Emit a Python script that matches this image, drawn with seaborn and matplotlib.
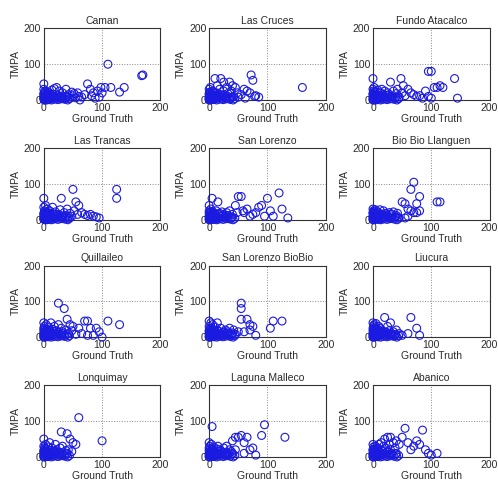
import matplotlib
matplotlib.use("Agg")
import matplotlib.pyplot as plt
import seaborn as sns

sns.set_style("white")
plt.rcParams['font.family'] = ['Liberation Sans', 'DejaVu Sans']

stations = ["Caman", "Las Cruces", "Fundo Atacalco",
            "Las Trancas", "San Lorenzo", "Bio Bio Llanguen",
            "Quillaileo", "San Lorenzo BioBio", "Liucura",
            "Lonquimay", "Laguna Malleco", "Abanico"]

# dense low-flow days shared by the stations (ground truth, TMPA)
low_gt = [0, 0, 0, 1, 1, 2, 2, 3, 3, 4, 5, 6, 7, 8, 9, 10, 11, 12, 13, 15, 16, 17, 19, 21, 23, 24, 26, 29,
          31, 33, 36, 39, 41, 44]
low_tmpa = [2, 8, 18, 4, 12, 0, 22, 6, 15, 10, 3, 14, 7, 1, 19, 9, 4, 12, 0, 6, 16, 2, 9, 4, 13, 1, 7, 3,
            11, 5, 2, 8, 0, 4]

caman_gt = [0, 0, 0, 0, 1, 1, 2, 2, 3, 4, 5, 5, 6, 8, 9, 10, 12, 14, 15, 18, 20, 22, 25, 27, 30, 32, 35, 38,
            40, 42, 45, 48, 50, 52, 55, 58, 60, 62, 65, 70, 75, 80, 82, 85, 88, 92, 95, 98, 100, 105, 110, 115,
            130, 138, 168, 170]
caman_tmpa = [45, 30, 15, 5, 20, 0, 10, 25, 8, 3, 18, 0, 12, 22, 2, 6, 15, 28, 10, 32, 5, 35, 12, 25, 8, 20, 4, 30,
              10, 15, 5, 22, 12, 18, 6, 20, 10, 0, 8, 15, 45, 30, 12, 20, 5, 25, 8, 35, 20, 35, 100, 35,
              22, 35, 68, 70]

cruces_gt = [0, 0, 0, 0, 1, 2, 2, 3, 4, 5, 6, 8, 10, 10, 12, 14, 15, 18, 20, 20, 22, 25, 25, 28, 30, 32, 35, 35,
             38, 40, 42, 45, 48, 50, 55, 60, 62, 65, 70, 72, 75, 78, 80, 85, 160]
cruces_tmpa = [30, 15, 5, 0, 22, 10, 35, 2, 18, 8, 25, 12, 60, 5, 20, 40, 8, 30, 60, 15, 5, 25, 50, 10, 35, 18, 50, 3,
               25, 40, 10, 35, 20, 8, 15, 30, 5, 25, 20, 70, 55, 10, 12, 8, 35]

fundo_gt = [0, 0, 0, 0, 1, 2, 2, 3, 4, 5, 6, 8, 10, 12, 14, 15, 18, 20, 22, 25, 28, 30, 32, 35, 38, 40, 42, 45,
            48, 50, 52, 55, 60, 65, 70, 75, 80, 85, 90, 95, 95, 100, 100, 105, 110, 115, 120, 140, 145]
fundo_tmpa = [60, 30, 15, 0, 25, 10, 35, 5, 20, 0, 15, 28, 10, 22, 5, 30, 12, 25, 8, 20, 15, 50, 10, 25, 5, 18, 30, 8,
              60, 20, 40, 12, 30, 20, 15, 10, 12, 5, 25, 80, 10, 80, 5, 35, 35, 40, 35, 60, 5]

trancas_gt = [0, 0, 0, 0, 1, 2, 3, 4, 5, 5, 6, 8, 10, 12, 14, 15, 18, 20, 22, 25, 28, 30, 32, 35, 38, 40, 42, 45,
              48, 50, 52, 55, 58, 60, 65, 70, 75, 80, 85, 90, 95, 125, 125]
trancas_tmpa = [60, 35, 15, 2, 25, 10, 40, 5, 20, 0, 30, 12, 25, 8, 18, 35, 5, 22, 10, 15, 28, 60, 8, 20, 12, 30, 5, 18,
                10, 85, 25, 50, 15, 40, 20, 15, 12, 15, 10, 8, 5, 85, 60]

slorenzo_gt = [0, 0, 0, 0, 1, 2, 3, 4, 5, 5, 6, 8, 10, 12, 15, 15, 18, 20, 22, 25, 28, 30, 32, 35, 38, 40, 45, 48,
               50, 55, 58, 60, 65, 70, 75, 80, 85, 90, 95, 100, 105, 110, 120, 125, 135]
slorenzo_tmpa = [40, 25, 10, 0, 18, 5, 30, 12, 60, 2, 22, 8, 15, 25, 50, 5, 18, 10, 22, 15, 8, 20, 12, 25, 5, 15, 40, 20,
                 65, 65, 25, 20, 30, 10, 15, 20, 35, 40, 10, 60, 25, 10, 75, 30, 5]

biobio_gt = [0, 0, 0, 0, 1, 2, 3, 4, 5, 6, 8, 10, 12, 14, 15, 18, 20, 22, 25, 28, 30, 32, 35, 38, 40, 42, 45,
             50, 55, 55, 60, 60, 65, 65, 70, 70, 75, 75, 80, 80, 110, 115]
biobio_tmpa = [30, 20, 10, 0, 25, 15, 5, 28, 18, 8, 22, 12, 28, 4, 15, 25, 8, 18, 10, 20, 5, 15, 22, 8, 12, 18, 5,
               50, 45, 5, 30, 10, 85, 25, 105, 20, 45, 20, 65, 25, 50, 50]

quill_gt = [0, 0, 0, 0, 1, 2, 3, 4, 5, 6, 8, 10, 12, 14, 15, 18, 20, 22, 25, 25, 28, 30, 32, 35, 35, 38, 40, 42,
            45, 48, 50, 55, 60, 65, 70, 75, 75, 80, 85, 90, 95, 100, 110, 130]
quill_tmpa = [40, 25, 10, 0, 30, 15, 5, 35, 20, 8, 28, 12, 40, 5, 22, 30, 10, 18, 95, 35, 8, 25, 15, 80, 5, 20, 50, 10,
              35, 18, 30, 8, 25, 10, 45, 45, 5, 25, 5, 25, 15, 0, 45, 35]

slbb_gt = [0, 0, 0, 0, 1, 2, 3, 4, 5, 6, 8, 10, 12, 14, 15, 18, 20, 22, 25, 28, 30, 32, 35, 38, 40, 42, 45,
           50, 55, 55, 55, 60, 65, 70, 70, 75, 80, 105, 110, 125]
slbb_tmpa = [45, 30, 15, 0, 25, 10, 40, 5, 20, 35, 12, 28, 8, 40, 18, 5, 25, 10, 15, 20, 8, 15, 25, 5, 12, 20, 8,
             15, 95, 80, 50, 15, 50, 35, 20, 30, 5, 25, 45, 45]

liucura_gt = [0, 0, 0, 0, 1, 1, 2, 2, 3, 4, 5, 5, 6, 7, 8, 10, 10, 12, 14, 15, 18, 20, 20, 22, 25, 25, 28, 30,
              32, 35, 38, 40, 45, 50, 60, 65, 75, 80]
liucura_tmpa = [40, 25, 10, 0, 32, 15, 35, 5, 20, 28, 10, 38, 22, 2, 15, 30, 5, 25, 12, 20, 8, 55, 15, 5, 30, 12, 18, 40,
                8, 15, 5, 20, 10, 5, 10, 55, 25, 5]

lonq_gt = [0, 0, 0, 0, 1, 2, 3, 4, 5, 6, 8, 10, 10, 12, 14, 15, 18, 20, 20, 22, 25, 28, 30, 30, 32, 35, 38, 40,
           40, 42, 45, 48, 50, 55, 60, 100]
lonq_tmpa = [50, 30, 15, 0, 25, 10, 35, 5, 20, 12, 28, 40, 8, 18, 25, 5, 15, 35, 10, 20, 8, 25, 70, 12, 30, 5, 18, 65,
             10, 20, 50, 15, 40, 35, 110, 45]

malleco_gt = [0, 0, 0, 0, 1, 2, 3, 4, 5, 5, 6, 8, 10, 12, 14, 15, 18, 20, 22, 25, 28, 30, 32, 35, 38, 40, 40, 45,
              45, 50, 55, 60, 60, 65, 70, 75, 80, 90, 95, 130]
malleco_tmpa = [40, 25, 10, 0, 30, 15, 5, 35, 85, 20, 10, 28, 15, 5, 22, 30, 10, 18, 8, 25, 12, 30, 5, 20, 15, 45, 10, 55,
                20, 55, 60, 40, 10, 55, 20, 25, 5, 60, 90, 55]

abanico_gt = [0, 0, 0, 0, 1, 2, 3, 4, 5, 6, 8, 10, 12, 14, 15, 18, 20, 20, 22, 25, 25, 28, 30, 30, 32, 35, 38, 40,
              40, 45, 50, 55, 60, 65, 70, 75, 80, 85, 90, 95, 100, 110]
abanico_tmpa = [35, 20, 10, 0, 28, 15, 5, 30, 18, 10, 25, 35, 12, 40, 20, 30, 50, 10, 25, 55, 15, 35, 55, 20, 8, 40, 25, 45,
                10, 35, 55, 80, 40, 20, 30, 45, 35, 75, 20, 10, 5, 10]

gt_series = [caman_gt, cruces_gt, fundo_gt, trancas_gt, slorenzo_gt, biobio_gt,
             quill_gt, slbb_gt, liucura_gt, lonq_gt, malleco_gt, abanico_gt]
tmpa_series = [caman_tmpa, cruces_tmpa, fundo_tmpa, trancas_tmpa, slorenzo_tmpa, biobio_tmpa,
               quill_tmpa, slbb_tmpa, liucura_tmpa, lonq_tmpa, malleco_tmpa, abanico_tmpa]

fig = plt.figure(figsize=(4.98, 4.83), dpi=100)
lefts = [0.088, 0.42, 0.749]
bottoms = [0.793, 0.545, 0.302, 0.054]
txt = '#2a2a2a'

for i, name in enumerate(stations):
    r, c = divmod(i, 3)
    ax = fig.add_axes([lefts[c], bottoms[r], 0.234, 0.148])
    xs = low_gt + gt_series[i]
    ys = low_tmpa + tmpa_series[i]
    sns.scatterplot(x=xs, y=ys, ax=ax, s=32, marker='o',
                    edgecolor='#1a1ae0', linewidth=0.8, clip_on=False, zorder=3)
    ax.collections[0].set_facecolor('none')
    ax.set_xlim(0, 200)
    ax.set_ylim(0, 200)
    ax.set_xticks([0, 100, 200])
    ax.set_yticks([0, 100, 200])
    ax.tick_params(labelsize=7.5, colors=txt, length=2, direction='in', pad=2)
    ax.grid(True, linestyle=':', color='#888888', linewidth=0.7)
    for sp in ax.spines.values():
        sp.set_color('#333333')
        sp.set_linewidth(0.8)
    ax.set_title(name, fontsize=7.5, color=txt, pad=3)
    ax.set_xlabel('Ground Truth', fontsize=7.5, color=txt, labelpad=1)
    ax.set_ylabel('TMPA', fontsize=7.5, color=txt, labelpad=2)

fig.savefig('out.png', dpi=100)
